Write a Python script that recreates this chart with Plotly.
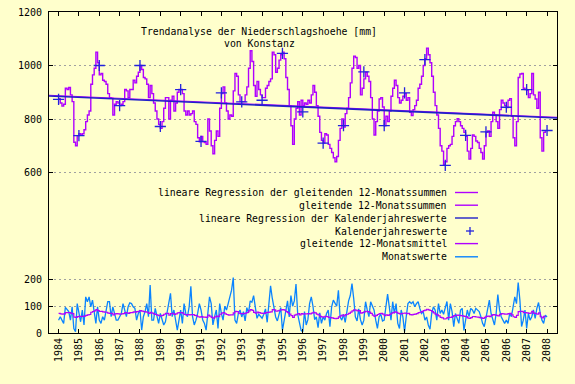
import plotly.graph_objects as go

# ---------------- data ----------------
start_year = 1984
years = list(range(1984, 2009))
year_labels = [str(y) for y in years]

# calendar year totals (mm), plotted at year ticks
calendar_values = [873, 738, 1000, 850, 1000, 772, 910, 716, 898, 864, 870, 1045,
                   827, 710, 775, 976, 775, 898, 1022, 627, 739, 752, 844, 910, 757]

# rolling 12-month sums (mm), monthly from 1984-01
rolling_sums = [
    876, 860, 848, 855, 915, 910, 918, 890, 865, 713, 700, 738,
    745, 740, 745, 760, 790, 815, 830, 930, 965, 990, 1050, 1010,
    965, 970, 945, 940, 930, 895, 880, 878, 815, 855, 865, 860,
    850, 855, 865, 910, 905, 880, 910, 910, 945, 935, 960, 975,
    1000, 985, 955, 950, 930, 880, 925, 895, 860, 830, 800, 780,
    765, 790, 840, 880, 880, 800, 870, 885, 830, 860, 900, 910,
    910, 895, 830, 815, 830, 815, 820, 830, 790, 780, 730, 715,
    735, 715, 712, 705, 800, 755, 700, 670, 720, 755, 735, 840,
    895, 920, 860, 830, 800, 815, 810, 905, 970, 960, 890, 865,
    865, 865, 890, 920, 990, 1055, 1015, 925, 885, 940, 910, 890,
    880, 880, 915, 925, 940, 950, 1050, 1040, 975, 990, 1020, 1040,
    1050, 1025, 955, 910, 850, 775, 705, 800, 840, 865, 815, 870,
    850, 860, 855, 870, 860, 890, 925, 900, 850, 810, 750, 720,
    710, 745, 740, 705, 690, 675, 655, 640, 660, 720, 765, 800,
    770, 820, 840, 880, 935, 990, 1035, 1030, 990, 1000, 890, 915,
    950, 975, 960, 940, 880, 800, 740, 790, 830, 875, 880, 845,
    775, 810, 790, 830, 885, 915, 945, 925, 880, 860, 870, 885,
    895, 870, 880, 825, 813, 835, 850, 870, 915, 930, 960, 1000,
    1025, 1065, 1040, 1010, 960, 900, 850, 815, 765, 700, 680, 628,
    640, 690, 700, 705, 735, 775, 790, 801, 790, 775, 765, 750,
    735, 680, 650, 690, 740, 735, 718, 712, 690, 675, 650, 700,
    750, 755, 735, 790, 825, 815, 790, 765, 835, 870, 860, 850,
    843, 870, 876, 810, 730, 700, 790, 955, 968, 970, 915, 910,
    907, 880, 895, 970, 890, 875, 840, 900, 730, 680, 750, 755,
]

# monthly precipitation (mm), from 1984-01 to 2008-01
monthly_values = [
    48, 61, 48, 36, 96, 86, 80, 48, 98, 17, 5, 110,
    80, 42, 86, 30, 135, 117, 135, 98, 123, 73, 36, 98,
    48, 36, 61, 48, 86, 117, 117, 61, 98, 73, 48, 48,
    61, 73, 110, 86, 61, 98, 113, 110, 98, 92, 48, 73,
    86, 11, 61, 80, 110, 61, 179, 48, 48, 92, 61, 36,
    73, 48, 30, 42, 80, 104, 148, 61, 86, 48, 11, 48,
    86, 36, 110, 73, 61, 98, 175, 61, 30, 48, 73, 110,
    86, 48, 36, 11, 86, 135, 110, 30, 61, 86, 17, 110,
    73, 48, 100, 86, 110, 135, 160, 207, 48, 36, 73, 86,
    60, 80, 45, 95, 75, 120, 115, 140, 90, 55, 70, 60,
    55, 70, 90, 40, 100, 176, 130, 95, 60, 45, 75, 95,
    10, 50, 90, 120, 60, 140, 100, 120, 183, 70, 40, 10,
    5, 80, 30, 50, 110, 135, 100, 50, 60, 20, 75, 36,
    60, 48, 73, 86, 24, 98, 123, 110, 100, 160, 60, 48,
    70, 40, 90, 120, 140, 185, 130, 60, 45, 90, 50, 30,
    48, 117, 86, 61, 117, 104, 86, 48, 17, 61, 70, 45,
    48, 98, 145, 98, 48, 117, 73, 110, 36, 17, 86, 60,
    5, 61, 110, 117, 110, 117, 98, 110, 117, 92, 73, 80,
    48, 60, 30, 14, 73, 98, 86, 48, 110, 73, 86, 70,
    98, 118, 48, 110, 80, 24, 73, 55, 36, 86, 92, 10,
    48, 86, 61, 92, 86, 73, 92, 86, 80, 61, 36, 24,
    61, 98, 123, 73, 48, 30, 73, 144, 86, 61, 48, 36,
    48, 36, 73, 61, 98, 135, 110, 189, 123, 24, 48, 86,
    17, 73, 48, 61, 86, 55, 92, 114, 73, 48, 36, 67,
    60,
]

# regression line end points (x in years, y in mm)
reg_x = [1983.53, 2008.49]
reg_calendar_y = [886, 804]
reg_rolling_y = [889, 806]

# tick values
y_ticks = [0, 100, 200, 600, 800, 1000, 1200]

# ---------------- derived ----------------
sum_x = [start_year + i / 12 for i in range(len(rolling_sums))]
mon_x = [start_year + i / 12 for i in range(len(monthly_values))]
rolling_means = [s / 12 for s in rolling_sums]

PURPLE = "#b000ff"
DBLUE = "#2020c8"
CROSS = "#2222dd"
LBLUE = "#0a84ff"
BG = "#ffffcc"
FONT = "DejaVu Sans Mono"

fig = go.Figure()
fig.add_trace(go.Scatter(x=mon_x, y=monthly_values, mode="lines",
                         line=dict(color=LBLUE, width=1.3)))
fig.add_trace(go.Scatter(x=sum_x, y=rolling_means, mode="lines",
                         line=dict(color=PURPLE, width=1.2, shape="hv")))
fig.add_trace(go.Scatter(x=sum_x, y=rolling_sums, mode="lines",
                         line=dict(color=PURPLE, width=1.4, shape="hv")))
fig.add_trace(go.Scatter(x=reg_x, y=reg_rolling_y, mode="lines",
                         line=dict(color=PURPLE, width=1.1)))
fig.add_trace(go.Scatter(x=reg_x, y=reg_calendar_y, mode="lines",
                         line=dict(color=DBLUE, width=1.6)))
fig.add_trace(go.Scatter(x=years, y=calendar_values, mode="markers",
                         marker=dict(symbol="cross-thin", size=8,
                                     line=dict(color=CROSS, width=1.3))))

# pixel helpers for layout placement
L, R, T, B = 49, 557, 12, 333
def px(x):
    return (x - L) / (R - L)
def py(y):
    return (B - y) / (B - T)

annotations = []
shapes = []
annotations.append(dict(text="Trendanalyse der Niederschlagshoehe [mm]", x=px(259), y=py(31.5),
                        xref="paper", yref="paper", showarrow=False, xanchor="center", yanchor="middle",
                        font=dict(family=FONT, size=9.8, color="black")))
annotations.append(dict(text="von Konstanz", x=px(259), y=py(43.5),
                        xref="paper", yref="paper", showarrow=False, xanchor="center", yanchor="middle",
                        font=dict(family=FONT, size=9.8, color="black")))

legend_rows = [
    ("lineare Regression der gleitenden 12-Monatssummen", 192.5, "line", PURPLE),
    ("gleitende 12-Monatssummen", 205.2, "line", PURPLE),
    ("lineare Regression der Kalenderjahreswerte", 218, "line", DBLUE),
    ("Kalenderjahreswerte", 231, "cross", CROSS),
    ("gleitende 12-Monatsmittel", 243.6, "line", PURPLE),
    ("Monatswerte", 256.8, "line", LBLUE),
]
for text, yy, kind, col in legend_rows:
    annotations.append(dict(text=text, x=px(448.5), y=py(yy), xref="paper", yref="paper",
                            showarrow=False, xanchor="right", yanchor="middle",
                            font=dict(family=FONT, size=9.8, color="black")))
    if kind == "line":
        shapes.append(dict(type="line", xref="paper", yref="paper", x0=px(455), x1=px(478),
                           y0=py(yy), y1=py(yy), line=dict(color=col, width=1.4)))
    else:
        shapes.append(dict(type="line", xref="paper", yref="paper", x0=px(466), x1=px(474),
                           y0=py(yy), y1=py(yy), line=dict(color=col, width=1.3)))
        shapes.append(dict(type="line", xref="paper", yref="paper", x0=px(470), x1=px(470),
                           y0=py(yy - 4), y1=py(yy + 4), line=dict(color=col, width=1.3)))

fig.update_layout(
    width=575, height=384,
    paper_bgcolor=BG, plot_bgcolor=BG,
    margin=dict(l=L, r=575 - R, t=T, b=384 - B, pad=0, autoexpand=False),
    showlegend=False,
    font=dict(family=FONT, size=10, color="black"),
    annotations=annotations,
    shapes=shapes,
    xaxis=dict(range=[1983.53, 2008.49], tickvals=years, ticktext=year_labels,
               tickangle=-90, ticks="inside", ticklen=4, tickcolor="black",
               showline=True, linecolor="black", linewidth=1, mirror="allticks",
               showgrid=False, zeroline=False, automargin=False,
               tickfont=dict(family=FONT, size=10, color="black")),
    yaxis=dict(range=[0, 1200], tickvals=y_ticks, ticks="inside", ticklen=4,
               tickcolor="black", showline=True, linecolor="black", linewidth=1,
               mirror="allticks", showgrid=True, gridcolor="#a0a0a0",
               griddash="2px,3px", gridwidth=1, zeroline=False, automargin=False,
               ticklabelstandoff=4,
               tickfont=dict(family=FONT, size=10, color="black")),
)

fig.write_html("out.html",
               config={"displayModeBar": False, "staticPlot": True},
               post_script="document.body.style.margin='0';document.body.style.padding='0';document.body.style.background='#ffffcc';")
